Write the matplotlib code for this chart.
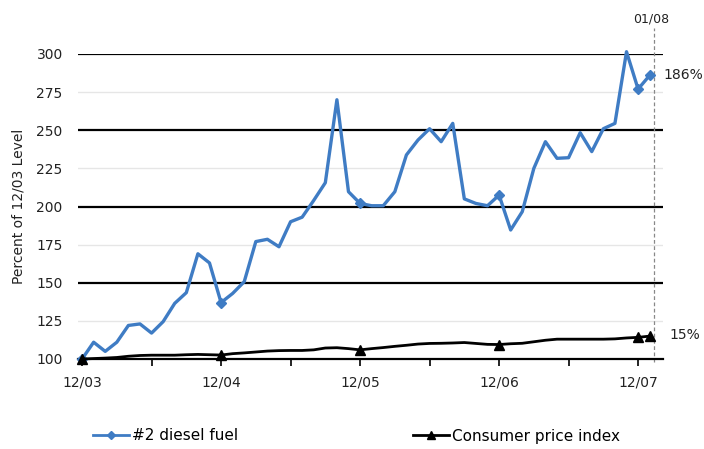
import numpy as np
import matplotlib
matplotlib.use("Agg")
import matplotlib.pyplot as plt
from matplotlib.lines import Line2D

# monthly values, 12/03 through 01/08 (12/03 = 100)
months = np.arange(50)
diesel = [100, 111, 105, 111, 122, 123, 117, 124.5, 136.5, 143.5,
          169, 163, 137, 143, 150.7, 177, 178.5, 173.6, 190, 193,
          204, 215.6, 270, 209.7, 202, 200.5, 200.5, 209.7, 233.8, 243.6,
          251, 242.5, 254.5, 205, 202, 200.5, 207.5, 184.6, 196.6, 225,
          242.5, 231.6, 232, 248.4, 236, 251, 254.5, 301.5, 277, 286]
cpi = [100, 100.3, 100.6, 101, 101.8, 102.3, 102.5, 102.5, 102.5, 102.8,
       103, 102.8, 102.6, 103.5, 104, 104.6, 105.2, 105.5, 105.6, 105.6,
       106, 107.2, 107.4, 106.8, 106, 106.8, 107.5, 108.3, 109, 109.8,
       110.2, 110.3, 110.5, 110.8, 110.2, 109.6, 109.5, 110, 110.3, 111.3,
       112.3, 113, 113, 113, 113, 113, 113.2, 113.8, 114.2, 115]
mark_idx = [0, 12, 24, 36, 48, 49]
tick_labels = ["12/03", "12/04", "12/05", "12/06", "12/07"]
end_labels = ["186%", "15%"]

BLUE = "#3f7cc4"
TXT = "#222222"

fig = plt.figure(figsize=(7.04, 4.49), dpi=100)
ax = fig.add_axes([78/704, 1 - 359/449, (663-78)/704, (359-54)/449])

ax.set_xlim(-0.35, 50.15)
ax.set_ylim(100, 300)

# alternating strong / faint horizontal rules
for v in (125, 175, 225, 275):
    ax.axhline(v, color="#e6e6e6", lw=1.0, zorder=0)
for v in (150, 200, 250, 300):
    ax.axhline(v, color="black", lw=1.6, zorder=1)

ax.plot(months, diesel, color=BLUE, lw=2.4, marker="D", ms=5,
        markevery=mark_idx, zorder=4, clip_on=False)
ax.plot(months, cpi, color="black", lw=2.0, marker="^", ms=7,
        markevery=mark_idx, zorder=4, clip_on=False)

# Jan '08 marker line
x_end = 49.4
ax.plot([x_end, x_end], [98, 317], color="#888888", lw=0.9, ls=(0, (3, 2)),
        clip_on=False, zorder=2)
ax.text(x_end - 0.3, 319, "01/08", ha="center", va="bottom", fontsize=9,
        color=TXT)
ax.text(months[-1] + 1.2, diesel[-1], end_labels[0], ha="left",
        va="center", fontsize=10, color=TXT)
ax.text(months[-1] + 1.7, cpi[-1] + 1, end_labels[1], ha="left",
        va="center", fontsize=10, color=TXT)

for s in ("top", "right", "left"):
    ax.spines[s].set_visible(False)
ax.spines["bottom"].set_linewidth(1.6)

ax.set_yticks(np.arange(100, 301, 25))
ax.tick_params(axis="y", length=0, pad=11, labelsize=10, labelcolor=TXT)
ax.set_xticks(np.arange(0, 49, 6))
ax.set_xticklabels([tick_labels[i // 2] if i % 2 == 0 else ""
                    for i in range(9)])
ax.tick_params(axis="x", length=5, width=1.2, direction="out", pad=7,
               labelsize=10, labelcolor=TXT)
ax.set_ylabel("Percent of 12/03 Level", fontsize=10, color=TXT, labelpad=8)

h1 = Line2D([], [], color=BLUE, lw=2, marker="D", ms=4)
h2 = Line2D([], [], color="black", lw=2, marker="^", ms=6)
fig.legend([h1], ["#2 diesel fuel"], loc="center left",
           bbox_to_anchor=(79/704, 1 - 436/449), frameon=False, fontsize=11,
           handlelength=2.4, handletextpad=0.15)
fig.legend([h2], ["Consumer price index"], loc="center left",
           bbox_to_anchor=(399/704, 1 - 436/449), frameon=False, fontsize=11,
           handlelength=2.4, handletextpad=0.15)

fig.savefig("out.png", dpi=100)
